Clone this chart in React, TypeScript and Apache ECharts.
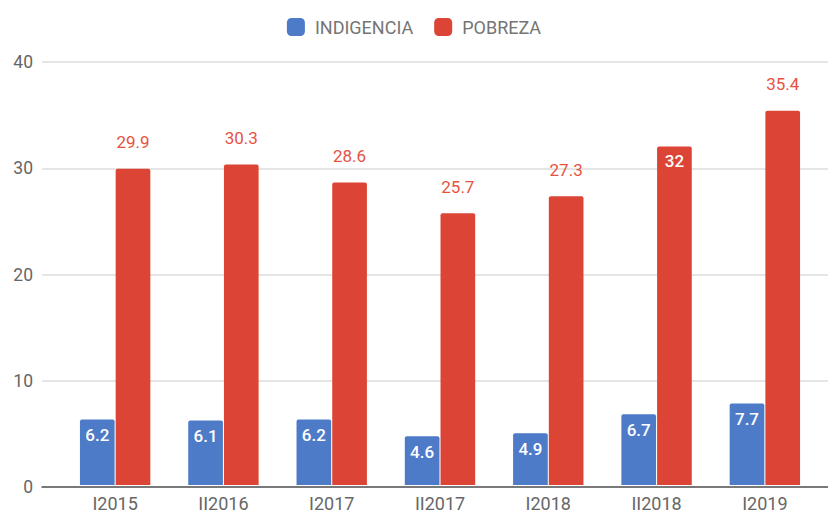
import React, { useEffect, useRef } from "react";
import * as echarts from "echarts";

const categories = ["I2015", "II2016", "I2017", "II2017", "I2018", "II2018", "I2019"];
const indigencia = [6.2, 6.1, 6.2, 4.6, 4.9, 6.7, 7.7];
const pobreza = [29.9, 30.3, 28.6, 25.7, 27.3, 32, 35.4];
const pobrezaInside = [false, false, false, false, false, true, false];
const yTicks = { min: 0, max: 40, interval: 10 };

const BLUE = "#4d7bc8";
const RED = "#dc4435";
const FONT = "Roboto";

export default function App() {
  const ref = useRef<HTMLDivElement>(null);
  useEffect(() => {
    if (!ref.current) return;
    const chart = echarts.init(ref.current, null, { renderer: "svg" });
    chart.setOption({
      animation: false,
      textStyle: { fontFamily: FONT },
      legend: {
        top: 13,
        left: "center",
        itemWidth: 18,
        itemHeight: 18,
        itemGap: 21,
        icon: "roundRect",
        textStyle: { fontSize: 18, color: "#757575", fontFamily: FONT, padding: [0, 0, 0, 5] },
        data: ["INDIGENCIA", "POBREZA"],
      },
      grid: [
        { left: 42, right: 0, top: 62, bottom: 25 },
        { left: 61, right: 9, top: 62, bottom: 25 },
      ],
      xAxis: [
        {
          gridIndex: 0,
          type: "category",
          data: [""],
          axisLine: { show: true, lineStyle: { color: "#555", width: 1.5 } },
          axisTick: { show: false },
          axisLabel: { show: false },
        },
        {
          gridIndex: 1,
          type: "category",
          data: categories,
          axisLine: { show: false },
          axisTick: { show: false },
          axisLabel: { color: "#666", fontSize: 18, margin: 9, fontFamily: FONT },
        },
      ],
      yAxis: [
        {
          gridIndex: 0,
          type: "value",
          min: yTicks.min,
          max: yTicks.max,
          interval: yTicks.interval,
          axisLine: { show: false },
          axisTick: { show: false },
          axisLabel: { color: "#666", fontSize: 17.5, margin: 9, fontFamily: FONT },
          splitLine: { lineStyle: { color: "#dcdcdc", width: 1.5 } },
        },
        {
          gridIndex: 1,
          type: "value",
          min: yTicks.min,
          max: yTicks.max,
          interval: yTicks.interval,
          show: false,
          splitLine: { show: false },
        },
      ],
      series: [
        {
          name: "INDIGENCIA",
          type: "bar",
          xAxisIndex: 1,
          yAxisIndex: 1,
          data: indigencia,
          barGap: "3%",
          barCategoryGap: "35%",
          itemStyle: { color: BLUE, borderRadius: [2, 2, 0, 0] },
          label: {
            show: true,
            position: "insideTop",
            distance: 7,
            color: "#fff",
            fontSize: 17,
            fontWeight: 500,
            fontFamily: FONT,
          },
        },
        {
          name: "POBREZA",
          type: "bar",
          xAxisIndex: 1,
          yAxisIndex: 1,
          barGap: "3%",
          barCategoryGap: "35%",
          itemStyle: { color: RED, borderRadius: [2, 2, 0, 0] },
          data: pobreza.map((v, i) =>
            pobrezaInside[i]
              ? {
                  value: v,
                  label: {
                    position: "insideTop",
                    distance: 6,
                    color: "#fff",
                    fontWeight: 500,
                  },
                }
              : { value: v }
          ),
          label: {
            show: true,
            position: "top",
            distance: 18,
            color: "#e5533f",
            fontSize: 17,
            fontFamily: FONT,
          },
        },
      ],
    });
    return () => chart.dispose();
  }, []);
  return <div ref={ref} style={{ width: 828, height: 512, position: "absolute", left: 0, top: 0 }} />;
}
